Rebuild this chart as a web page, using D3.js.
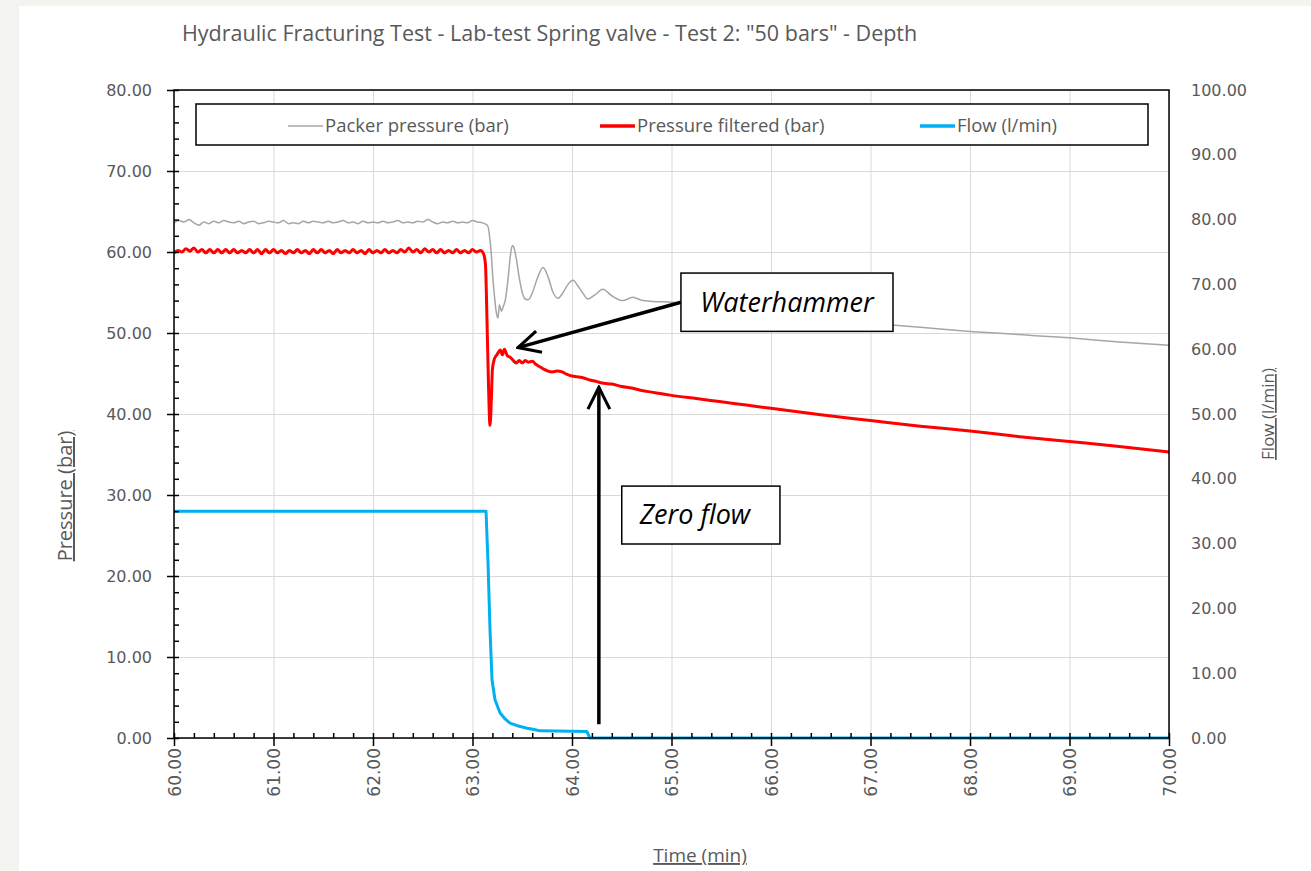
<!DOCTYPE html>
<html>
<head>
<meta charset="utf-8">
<script src="https://cdn.jsdelivr.net/npm/d3@7.9.0/dist/d3.min.js"></script>
<style>
  body { margin: 0; background: #f3f3ef; }
  svg { display: block; }
</style>
</head>
<body>
<div id="chart"></div>
<script>
// --- data: [time (min), value] ---
const packerPressure = [
  [60.00,63.6],[60.05,63.9],[60.10,63.7],[60.15,64.0],[60.20,63.6],[60.25,63.3],[60.30,63.7],[60.35,63.5],
  [60.40,63.8],[60.45,63.6],[60.50,63.9],[60.55,63.7],[60.60,63.6],[60.65,63.8],[60.70,63.5],[60.75,63.7],
  [60.80,63.8],[60.85,63.5],[60.90,63.6],[60.95,63.8],[61.00,63.7],[61.05,63.6],[61.10,63.9],[61.15,63.5],
  [61.20,63.6],[61.25,63.5],[61.30,63.8],[61.35,63.6],[61.40,63.8],[61.45,63.7],[61.50,63.6],[61.55,63.8],
  [61.60,63.6],[61.65,63.7],[61.70,63.9],[61.75,63.6],[61.80,63.7],[61.85,63.5],[61.90,63.8],[61.95,63.6],
  [62.00,63.7],[62.05,63.6],[62.10,63.8],[62.15,63.6],[62.20,63.7],[62.25,63.9],[62.30,63.6],[62.35,63.7],
  [62.40,63.6],[62.45,63.8],[62.50,63.7],[62.55,64.0],[62.60,63.7],[62.65,63.5],[62.70,63.7],[62.75,63.6],
  [62.80,63.8],[62.85,63.6],[62.90,63.7],[62.95,63.6],[63.00,63.9],[63.05,63.7],[63.10,63.6],[63.15,63.3],
  [63.18,61.0],[63.21,56.0],[63.24,52.5],[63.256,51.85],[63.27,53.5],[63.29,52.7],[63.31,53.3],[63.33,54.1],
  [63.36,57.0],[63.38,59.5],[63.40,60.8],[63.42,60.4],[63.44,59.2],[63.47,56.8],[63.50,55.0],[63.53,54.2],
  [63.56,54.1],[63.60,54.9],[63.65,56.7],[63.71,58.1],[63.76,56.9],[63.81,55.0],[63.86,54.3],[63.92,55.2],
  [63.96,56.0],[64.01,56.5],[64.06,55.8],[64.11,54.9],[64.16,54.2],[64.23,54.7],[64.31,55.4],[64.40,54.6],
  [64.51,54.0],[64.61,54.4],[64.71,54.0],[64.81,53.9],[65.00,53.8],[65.50,53.1],[66.00,52.5],[66.50,51.8],
  [67.00,51.2],[67.50,50.7],[68.00,50.2],[68.50,49.8],[69.00,49.4],[69.50,48.9],[70.00,48.5]
];

const pressureFiltered = [
  [60.00,59.9],[60.04,60.2],[60.08,60.0],[60.12,60.4],[60.16,60.1],[60.20,60.5],[60.24,60.0],[60.28,60.3],
  [60.32,59.9],[60.36,60.3],[60.40,59.9],[60.44,60.3],[60.48,59.9],[60.52,60.3],[60.56,59.9],[60.60,60.3],
  [60.64,59.9],[60.68,60.2],[60.72,59.9],[60.76,60.3],[60.80,59.9],[60.84,60.3],[60.88,59.8],[60.92,60.3],
  [60.96,59.9],[61.00,60.3],[61.04,59.9],[61.08,60.2],[61.12,59.8],[61.16,60.2],[61.20,59.9],[61.24,60.3],
  [61.28,59.9],[61.32,60.2],[61.36,59.8],[61.40,60.3],[61.44,59.9],[61.48,60.3],[61.52,59.9],[61.56,60.2],
  [61.60,59.8],[61.64,60.3],[61.68,59.9],[61.72,60.2],[61.76,59.9],[61.80,60.3],[61.84,59.9],[61.88,60.2],
  [61.92,59.8],[61.96,60.3],[62.00,59.9],[62.04,60.2],[62.08,59.9],[62.12,60.3],[62.16,59.9],[62.20,60.2],
  [62.24,59.9],[62.28,60.3],[62.32,60.0],[62.36,60.5],[62.40,60.0],[62.44,60.3],[62.48,59.9],[62.52,60.4],
  [62.56,60.0],[62.60,60.3],[62.64,59.9],[62.68,60.3],[62.72,59.9],[62.76,60.2],[62.80,59.9],[62.84,60.3],
  [62.88,59.9],[62.92,60.2],[62.96,59.9],[63.00,60.3],[63.04,60.0],[63.08,60.2],[63.11,59.8],[63.13,58.5],
  [63.145,52.0],[63.16,44.0],[63.176,38.6],[63.19,42.0],[63.20,45.5],[63.22,46.8],[63.25,47.4],[63.28,47.9],
  [63.30,47.3],[63.32,48.0],[63.35,47.2],[63.38,47.0],[63.41,46.6],[63.44,46.3],[63.47,46.6],[63.50,46.3],
  [63.53,46.6],[63.56,46.4],[63.60,46.5],[63.64,46.1],[63.68,45.8],[63.72,45.5],[63.76,45.3],[63.80,45.2],
  [63.85,45.3],[63.90,45.2],[63.95,44.9],[64.00,44.7],[64.05,44.6],[64.10,44.5],[64.18,44.2],[64.25,44.0],
  [64.32,43.8],[64.40,43.7],[64.50,43.4],[64.60,43.2],[64.70,42.9],[64.80,42.7],[64.90,42.5],[65.00,42.3],
  [65.25,41.9],[65.50,41.5],[65.75,41.1],[66.00,40.7],[66.50,39.9],[67.00,39.2],[67.50,38.5],[68.00,37.9],
  [68.50,37.2],[69.00,36.6],[69.50,36.0],[70.00,35.3]
];

const flow = [
  [60.00,35.0],[63.136,35.0],[63.156,27.0],[63.176,16.7],[63.196,9.0],[63.226,5.9],[63.276,3.9],[63.33,2.9],
  [63.377,2.3],[63.45,1.9],[63.55,1.5],[63.62,1.3],[63.68,1.1],[64.15,1.0],[64.18,0.0],[70.00,0.0]
];

const seriesNames = ["Packer pressure (bar)", "Pressure filtered (bar)", "Flow (l/min)"];
const timeTicks = [60, 61, 62, 63, 64, 65, 66, 67, 68, 69, 70];
const pressureTicks = [0, 10, 20, 30, 40, 50, 60, 70, 80];
const flowTicks = [0, 10, 20, 30, 40, 50, 60, 70, 80, 90, 100];

// annotations: [time, pressure]
const waterhammerArrow = [[65.095, 53.8], [63.457, 48.2]];
const zeroFlowArrow = [[64.27, 1.7], [64.27, 43.3]];
const waterhammerBox = { text: "Waterhammer", x0: 65.095, x1: 67.226, y0: 57.4, y1: 50.2 };
const zeroFlowBox = { text: "Zero flow", x0: 64.50, x1: 66.09, y0: 31.1, y1: 23.95 };

// --- layout ---
const width = 1311, height = 871;
const plot = { left: 174, right: 1169, top: 90, bottom: 738 };
const fmt = d3.format(".2f");
const labelColor = "#595959";
const uiFont = "'Open Sans', sans-serif";

const svg = d3.select("#chart").append("svg")
  .attr("width", width).attr("height", height);

// white card
svg.append("rect").attr("x", 19).attr("y", 6)
  .attr("width", width - 19).attr("height", height - 6).attr("fill", "#fff");

const x = d3.scaleLinear().domain([60, 70]).range([plot.left, plot.right]);
const yLeft = d3.scaleLinear().domain([0, 80]).range([plot.bottom, plot.top]);
const yRight = d3.scaleLinear().domain([0, 100]).range([plot.bottom, plot.top]);

// gridlines
svg.append("g")
  .attr("transform", `translate(${plot.left},0)`)
  .call(d3.axisLeft(yLeft).tickValues(pressureTicks).tickFormat("").tickSize(-(plot.right - plot.left)))
  .call(g => g.select(".domain").remove())
  .selectAll("line").attr("stroke", "#d9d9d9");

svg.append("g")
  .attr("transform", `translate(0,${plot.bottom})`)
  .call(d3.axisBottom(x).tickValues(timeTicks).tickFormat("").tickSize(-(plot.bottom - plot.top)))
  .call(g => g.select(".domain").remove())
  .selectAll("line").attr("stroke", "#d9d9d9");

// lines
const linePressure = d3.line().x(d => x(d[0])).y(d => yLeft(d[1])).curve(d3.curveMonotoneX);
const lineFlow = d3.line().x(d => x(d[0])).y(d => yRight(d[1]));

svg.append("path").datum(packerPressure)
  .attr("fill", "none").attr("stroke", "#a6a6a6").attr("stroke-width", 1.5)
  .attr("stroke-linejoin", "round").attr("d", linePressure);

svg.append("path").datum(pressureFiltered)
  .attr("fill", "none").attr("stroke", "#ff0000").attr("stroke-width", 3)
  .attr("stroke-linejoin", "round").attr("d", linePressure);

svg.append("path").datum(flow)
  .attr("fill", "none").attr("stroke", "#00b0f0").attr("stroke-width", 3)
  .attr("stroke-linejoin", "round").attr("d", lineFlow);

// plot frame
svg.append("rect")
  .attr("x", plot.left).attr("y", plot.top)
  .attr("width", plot.right - plot.left).attr("height", plot.bottom - plot.top)
  .attr("fill", "none").attr("stroke", "#000").attr("stroke-width", 1.5);

// left axis: major ticks outside + labels, major/minor ticks inside
svg.append("g")
  .attr("transform", `translate(${plot.left},0)`)
  .call(d3.axisLeft(yLeft).tickValues(pressureTicks).tickFormat(fmt).tickSizeInner(7).tickSizeOuter(0).tickPadding(15))
  .call(g => g.select(".domain").remove())
  .call(g => g.selectAll("line").attr("stroke", "#000").attr("stroke-width", 1.5))
  .call(g => g.selectAll("text").attr("fill", labelColor).style("font", "16px 'DejaVu Sans'"));

svg.append("g")
  .attr("transform", `translate(${plot.left},0)`)
  .call(d3.axisRight(yLeft).tickValues(d3.range(0, 81, 2)).tickFormat("").tickSize(5).tickSizeOuter(0))
  .call(g => g.select(".domain").remove())
  .selectAll("line").attr("stroke", "#000").attr("stroke-width", 1.5);

// right axis: labels only
svg.append("g")
  .attr("transform", `translate(${plot.right},0)`)
  .call(d3.axisRight(yRight).tickValues(flowTicks).tickFormat(fmt).tickSize(0).tickPadding(22))
  .call(g => g.select(".domain").remove())
  .call(g => g.selectAll("text").attr("fill", labelColor).style("font", "16px 'DejaVu Sans'"));

// bottom axis: major ticks + rotated labels, minor ticks inside
svg.append("g")
  .attr("transform", `translate(0,${plot.bottom})`)
  .call(d3.axisBottom(x).tickValues(timeTicks).tickFormat(fmt).tickSizeInner(8).tickSizeOuter(0))
  .call(g => g.select(".domain").remove())
  .call(g => g.selectAll("line").attr("stroke", "#000").attr("stroke-width", 1.5))
  .call(g => g.selectAll("text")
    .attr("fill", labelColor).style("font", "17px 'DejaVu Sans'")
    .attr("transform", "rotate(-90)")
    .attr("x", -10).attr("y", 0).attr("dy", "0.36em")
    .attr("text-anchor", "end"));

svg.append("g")
  .attr("transform", `translate(0,${plot.bottom})`)
  .call(d3.axisTop(x).tickValues(d3.range(60, 70.01, 0.2)).tickFormat("").tickSize(5).tickSizeOuter(0))
  .call(g => g.select(".domain").remove())
  .selectAll("line").attr("stroke", "#000").attr("stroke-width", 1.5);

// title and axis titles
svg.append("text")
  .attr("x", 182).attr("y", 41)
  .attr("fill", labelColor).style("font-family", uiFont).style("font-size", "21.5px")
  .text('Hydraulic Fracturing Test - Lab-test Spring valve - Test 2: "50 bars" - Depth');

svg.append("text")
  .attr("transform", "translate(72,496) rotate(-90)")
  .attr("text-anchor", "middle")
  .attr("fill", labelColor).style("font-family", uiFont).style("font-size", "20px")
  .style("text-decoration", "underline")
  .text("Pressure (bar)");

svg.append("text")
  .attr("transform", "translate(1274,414) rotate(-90)")
  .attr("text-anchor", "middle")
  .attr("fill", labelColor).style("font-family", uiFont).style("font-size", "17px")
  .style("text-decoration", "underline")
  .text("Flow (l/min)");

svg.append("text")
  .attr("x", 700).attr("y", 862)
  .attr("text-anchor", "middle")
  .attr("fill", labelColor).style("font-family", uiFont).style("font-size", "19px")
  .style("text-decoration", "underline")
  .text("Time (min)");

// legend
const legendColors = ["#a6a6a6", "#ff0000", "#00b0f0"];
const legendWidths = [1.5, 3.5, 3.5];
const legendX = [288, 600, 920];
const legend = svg.append("g");
legend.append("rect")
  .attr("x", 196).attr("y", 104).attr("width", 952).attr("height", 41)
  .attr("fill", "#fff").attr("stroke", "#000").attr("stroke-width", 1.5);
seriesNames.forEach((name, i) => {
  legend.append("line")
    .attr("x1", legendX[i]).attr("x2", legendX[i] + 35)
    .attr("y1", 126).attr("y2", 126)
    .attr("stroke", legendColors[i]).attr("stroke-width", legendWidths[i]);
  legend.append("text")
    .attr("x", legendX[i] + 37).attr("y", 126).attr("dy", "0.35em")
    .attr("fill", labelColor).style("font-family", uiFont).style("font-size", "18.5px")
    .text(name);
});

// annotations
const defs = svg.append("defs");
defs.append("marker")
  .attr("id", "chev").attr("viewBox", "0 0 12 12")
  .attr("refX", 11).attr("refY", 6)
  .attr("markerWidth", 7.5).attr("markerHeight", 7.5)
  .attr("markerUnits", "strokeWidth")
  .attr("orient", "auto")
  .append("path").attr("d", "M1,1 L11,6 L1,11")
  .attr("fill", "none").attr("stroke", "#000").attr("stroke-width", 1.4)
  .attr("stroke-linejoin", "miter");

[waterhammerArrow, zeroFlowArrow].forEach(a => {
  svg.append("line")
    .attr("x1", x(a[0][0])).attr("y1", yLeft(a[0][1]))
    .attr("x2", x(a[1][0])).attr("y2", yLeft(a[1][1]))
    .attr("stroke", "#000").attr("stroke-width", 3.5)
    .attr("marker-end", "url(#chev)");
});

[waterhammerBox, zeroFlowBox].forEach((b, i) => {
  svg.append("rect")
    .attr("x", x(b.x0)).attr("y", yLeft(b.y0))
    .attr("width", x(b.x1) - x(b.x0)).attr("height", yLeft(b.y1) - yLeft(b.y0))
    .attr("fill", "#fff").attr("stroke", "#000").attr("stroke-width", 1.5);
  svg.append("text")
    .attr("x", i === 0 ? (x(b.x0) + x(b.x1)) / 2 : x(b.x0) + 18)
    .attr("y", (yLeft(b.y0) + yLeft(b.y1)) / 2).attr("dy", "0.35em")
    .attr("text-anchor", i === 0 ? "middle" : "start")
    .attr("fill", "#000").style("font-family", uiFont).style("font-size", "27px")
    .style("font-style", "italic")
    .text(b.text);
});
</script>
</body>
</html>
